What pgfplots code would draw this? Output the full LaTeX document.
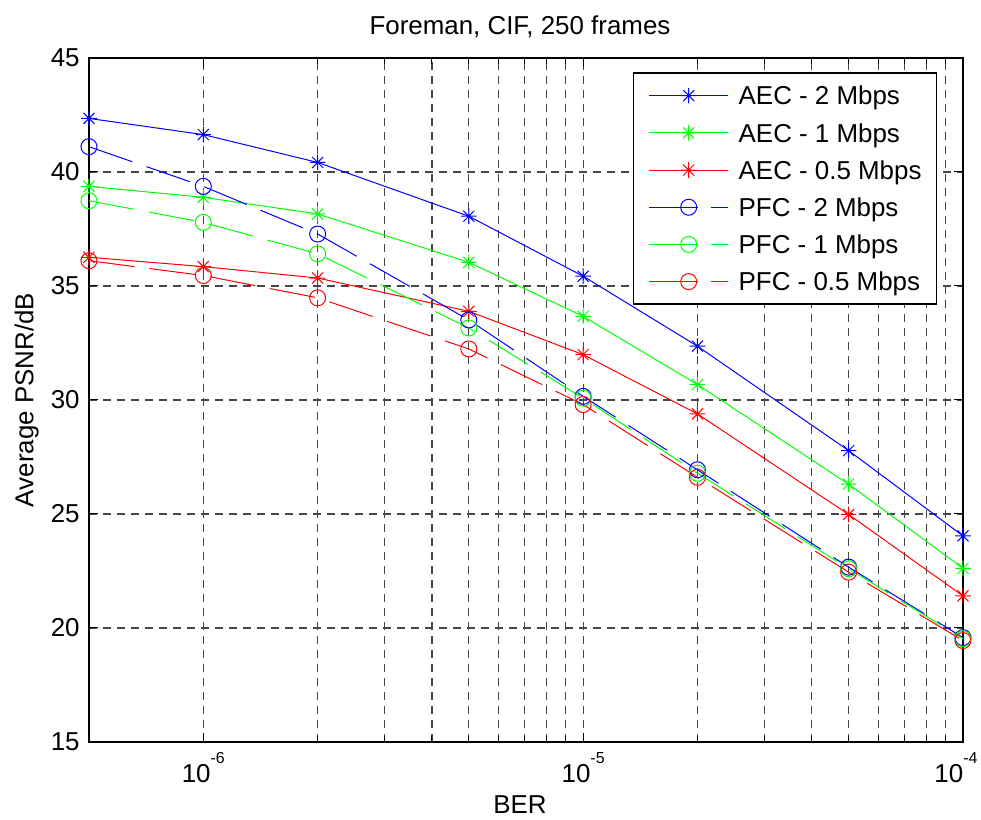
\documentclass[border=0pt]{standalone}
\usepackage{fontspec}
\setmainfont{Liberation Sans}
\usepackage{pgfplots}
\pgfplotsset{compat=1.18}

% MATLAB-style asterisk: + and x on top of each other
\pgfdeclareplotmark{mstar}{%
  \pgfpathmoveto{\pgfqpoint{0pt}{\pgfplotmarksize}}%
  \pgfpathlineto{\pgfqpoint{0pt}{-\pgfplotmarksize}}%
  \pgfpathmoveto{\pgfqpoint{\pgfplotmarksize}{0pt}}%
  \pgfpathlineto{\pgfqpoint{-\pgfplotmarksize}{0pt}}%
  \pgfpathmoveto{\pgfqpoint{.7071\pgfplotmarksize}{.7071\pgfplotmarksize}}%
  \pgfpathlineto{\pgfqpoint{-.7071\pgfplotmarksize}{-.7071\pgfplotmarksize}}%
  \pgfpathmoveto{\pgfqpoint{-.7071\pgfplotmarksize}{.7071\pgfplotmarksize}}%
  \pgfpathlineto{\pgfqpoint{.7071\pgfplotmarksize}{-.7071\pgfplotmarksize}}%
  \pgfusepathqstroke
}

\pgfplotsset{
  aec/.style={solid, line width=0.5bp, mark=mstar, mark size=3.9bp, mark options={solid},
    legend image code/.code={\draw[mark repeat=2,mark phase=2]
      plot coordinates {(0bp,0bp) (19.75bp,0bp) (39.5bp,0bp)};}},
  pfc/.style={line width=0.5bp, dash pattern=on 23bp off 7.5bp, mark=o, mark size=4bp, mark options={solid},
    legend image code/.code={\draw[mark repeat=2,mark phase=2,
      dash pattern=on 24.5bp off 6.5bp on 8.5bp off 20bp]
      plot coordinates {(0bp,0bp) (19.75bp,0bp) (39.5bp,0bp)};}},
}

\newcommand{\sfont}{\fontsize{13}{15}\selectfont}
\newcommand{\expo}[1]{\raisebox{9.3bp}{\fontsize{8}{8}\selectfont #1}}

\begin{document}
\begin{tikzpicture}
\begin{axis}[
    at={(0,0)}, anchor=south west,
    scale only axis,
    width=437bp, height=342bp,
    xmode=log,
    xmin=5e-7, xmax=1e-4,
    ymin=15, ymax=45,
    xtick={1e-6,1e-5,1e-4},
    xticklabels={10\expo{-6}, 10\expo{-5}, 10\expo{-4}\kern7bp},
    ytick={15,20,25,30,35,40,45},
    yticklabels={15,20,25,30,35,40,45},
    tick pos=both,
    ticklabel pos=left,
    xmajorgrids=true, xminorgrids=true, ymajorgrids=true,
    grid style={line width=0.6bp, black!72, dash pattern=on 4bp off 3bp},
    minor grid style={line width=0.6bp, black!72, dash pattern=on 4bp off 3bp},
    axis line style={line width=1bp},
    tick style={black, line width=0.5bp},
    major tick length=4.5bp, minor tick length=3bp,
    tick label style={font=\sfont},
    xticklabel style={anchor=base, yshift=-20bp, inner sep=0pt},
    yticklabel style={inner sep=0pt, xshift=-4.5bp},
    title={Foreman, CIF, 250 frames},
    every axis title shift=0pt,
    title style={at={(0.5,1)}, anchor=base, yshift=11.5bp, xshift=-3bp, inner sep=0pt, font=\sfont},
    xlabel={BER},
    xlabel style={at={(axis description cs:0.5,0)}, anchor=base, yshift=-35.8bp, xshift=-3bp, inner sep=0pt, font=\sfont},
    ylabel={Average PSNR/dB},
    % the label is already turned by 90 degrees, so its own y points left
    ylabel style={at={(axis description cs:0,0.5)}, anchor=base, yshift=27.8bp, inner sep=0pt, font=\sfont},
    clip=false,
    legend cell align=left,
    legend style={at={(1,1)}, anchor=north east, xshift=-12.85bp, yshift=-7.15bp,
      draw=black, line width=0.75bp, fill=white,
      inner xsep=7.5bp, inner ysep=2bp, row sep=0pt, font=\fontsize{13}{15}\selectfont,
      nodes={inner sep=0pt, text height=9.3bp, text depth=0pt, minimum height=18.6bp},
      /tikz/every odd column/.append style={column sep=5bp}},
]
\addplot[aec, blue] coordinates {
  (5e-7,42.35) (1e-6,41.64) (2e-6,40.42) (5e-6,38.06)
  (1e-5,35.43) (2e-5,32.36) (5e-5,27.78) (1e-4,24.04)};
\addlegendentry{AEC - 2 Mbps}
\addplot[aec, green] coordinates {
  (5e-7,39.37) (1e-6,38.89) (2e-6,38.16) (5e-6,36.04)
  (1e-5,33.67) (2e-5,30.68) (5e-5,26.31) (1e-4,22.62)};
\addlegendentry{AEC - 1 Mbps}
\addplot[aec, red] coordinates {
  (5e-7,36.26) (1e-6,35.85) (2e-6,35.35) (5e-6,33.89)
  (1e-5,31.99) (2e-5,29.39) (5e-5,24.98) (1e-4,21.41)};
\addlegendentry{AEC - 0.5 Mbps}
\addplot[pfc, blue] coordinates {
  (5e-7,41.11) (1e-6,39.37) (2e-6,37.28) (5e-6,33.51)
  (1e-5,30.16) (2e-5,26.94) (5e-5,22.67) (1e-4,19.58)};
\addlegendentry{PFC - 2 Mbps}
\addplot[pfc, green] coordinates {
  (5e-7,38.74) (1e-6,37.79) (2e-6,36.41) (5e-6,33.16)
  (1e-5,30.08) (2e-5,26.79) (5e-5,22.60) (1e-4,19.53)};
\addlegendentry{PFC - 1 Mbps}
\addplot[pfc, red] coordinates {
  (5e-7,36.11) (1e-6,35.46) (2e-6,34.48) (5e-6,32.24)
  (1e-5,29.80) (2e-5,26.61) (5e-5,22.45) (1e-4,19.45)};
\addlegendentry{PFC - 0.5 Mbps}
\end{axis}
\pgfresetboundingbox
\path[use as bounding box] (-44.5bp,-39bp) rectangle (446bp,371bp);
\end{tikzpicture}
\end{document}
